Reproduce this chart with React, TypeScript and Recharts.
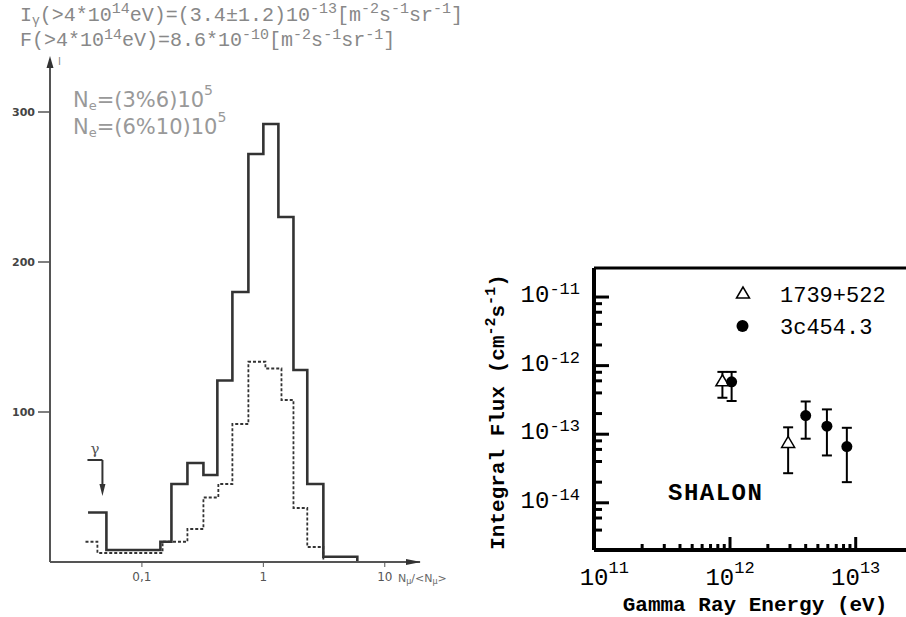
import React from 'react'
import {
  ComposedChart, Line, XAxis, YAxis, ReferenceLine, ReferenceDot,
  ScatterChart, Scatter, ErrorBar,
} from 'recharts'

// left panel: N_mu/<N_mu> histogram, bin left edges and counts (last entry closes the step)
const solidEdges = [0.036, 0.051, 0.142, 0.175, 0.237, 0.321, 0.418, 0.556, 0.753, 1, 1.33, 1.77, 2.3, 3.12, 5.94]
const solidCounts = [33, 8, 13.5, 52, 66, 58, 121, 180, 272, 292, 230, 128, 52, 3.5, 0]
const dashedEdges = [0.0343, 0.043, 0.148, 0.237, 0.321, 0.426, 0.556, 0.753, 1.04, 1.41, 1.77, 2.3, 3.12]
const dashedCounts = [13.5, 6, 13.5, 22, 43, 52, 92, 133.5, 129, 108, 36, 10, 0]
const histXTicks = [0.1, 1, 10]
const histXLabels = ['0,1', '1', '10']
const histYTicks = [100, 200, 300]

// right panel: SHALON integral flux
const bllacEnergy = [8.7e11, 2.9e12]
const bllacFlux = [6.0e-13, 7.6e-14]
const bllacLow = [3.4e-13, 2.7e-14]
const bllacHigh = [8.1e-13, 1.26e-13]

const quasarEnergy = [1.03e12, 4.0e12, 5.9e12, 8.5e12]
const quasarFlux = [5.8e-13, 1.87e-13, 1.31e-13, 6.6e-14]
const quasarLow = [3.05e-13, 8.6e-14, 4.9e-14, 2.0e-14]
const quasarHigh = [8.1e-13, 3.0e-13, 2.3e-13, 1.24e-13]

const energyTicks = [1e11, 2e11, 3e11, 4e11, 5e11, 6e11, 7e11, 8e11, 9e11, 1e12,
  2e12, 3e12, 4e12, 5e12, 6e12, 7e12, 8e12, 9e12, 1e13]
const fluxTicks = [4e-15, 6e-15, 8e-15, 1e-14, 2e-14, 4e-14, 6e-14, 8e-14, 1e-13,
  2e-13, 4e-13, 6e-13, 8e-13, 1e-12, 2e-12, 4e-12, 6e-12, 8e-12, 1e-11]

const E_MIN = 8.28e10
const E_MAX = 2.512e13
const F_MIN = 2.05e-15
const F_MAX = 2.65e-11

const mono = '"Liberation Mono", "DejaVu Sans Mono", monospace'
const gray = '#888'

const steps = (xs: number[], ys: number[]) => xs.map((x, i) => ({ x, y: ys[i] }))
const withErr = (e: number[], f: number[], lo: number[], hi: number[]) =>
  e.map((v, i) => ({ e: v, f: f[i], err: [f[i] - lo[i], hi[i] - f[i]] }))

const isDecade = (v: number) => Math.abs(Math.log10(v) - Math.round(Math.log10(v))) < 1e-6
const expo = (v: number) => String(Math.round(Math.log10(v)))

const EnergyTick = (props: any) => {
  const { x, y, payload, index } = props
  const v = payload.value
  const major = isDecade(v)
  return (
    <g>
      {index > 0 && (
        <line x1={x} x2={x} y1={y} y2={y - (major ? 13 : 6)} stroke="#000" strokeWidth={3} />
      )}
      {major && (
        <text x={x} y={y + 35} textAnchor="middle" fontFamily={mono} fontSize={24} fill="#000">
          10<tspan fontSize={17} dy={-12}>{expo(v)}</tspan>
        </text>
      )}
    </g>
  )
}

const FluxTick = (props: any) => {
  const { x, y, payload } = props
  const v = payload.value
  const major = isDecade(v)
  return (
    <g>
      <line x1={x} x2={x + (major ? 15 : 8)} y1={y} y2={y} stroke="#000" strokeWidth={3} />
      {major && (
        <text x={x - 14} y={y + 5} textAnchor="end" fontFamily={mono} fontSize={24} fill="#000">
          10<tspan fontSize={17} dy={-8}>{expo(v)}</tspan>
        </text>
      )}
    </g>
  )
}

const triangle = (props: any) => {
  const { cx, cy } = props
  return (
    <polygon
      points={`${cx},${cy - 6} ${cx - 6.5},${cy + 5} ${cx + 6.5},${cy + 5}`}
      fill="#fff" stroke="#000" strokeWidth={1.5}
    />
  )
}
const dot = (props: any) => <circle cx={props.cx} cy={props.cy} r={5.5} fill="#000" />

const HistogramPanel = () => (
  <ComposedChart width={460} height={617} margin={{ top: 67, right: 40, bottom: 25, left: 10 }}>
    <XAxis
      type="number" dataKey="x" scale="log" domain={[0.0175, 19.5]} allowDataOverflow
      ticks={histXTicks} interval={0} height={30}
      tickFormatter={(v: number) => histXLabels[histXTicks.indexOf(v)] ?? ''}
      axisLine={{ stroke: '#555', strokeWidth: 2 }} tickLine={{ stroke: '#555' }}
      tickSize={5} tickMargin={5}
      tick={{ fontSize: 12, fill: '#555', fontFamily: '"DejaVu Sans"' }}
    />
    <YAxis
      type="number" domain={[0, 330]} allowDataOverflow ticks={histYTicks} interval={0} width={40}
      axisLine={{ stroke: '#555', strokeWidth: 2 }} tickLine={{ stroke: '#555', strokeWidth: 1.5 }}
      tickSize={12} tickMargin={3}
      tick={{ fontSize: 11, fill: '#444', fontWeight: 'bold', fontFamily: '"DejaVu Sans"' }}
    />
    <Line
      data={steps(dashedEdges, dashedCounts)} dataKey="y" type="stepAfter" dot={false}
      stroke="#333" strokeWidth={1.8} strokeDasharray="3 2" isAnimationActive={false}
    />
    <Line
      data={steps(solidEdges, solidCounts)} dataKey="y" type="stepAfter" dot={false}
      stroke="#333" strokeWidth={2.6} isAnimationActive={false}
    />
    {/* gamma upper-limit arrow */}
    <ReferenceLine segment={[{ x: 0.0356, y: 68 }, { x: 0.0473, y: 68 }]} stroke="#333" strokeWidth={2} ifOverflow="visible" />
    <ReferenceLine segment={[{ x: 0.0473, y: 68 }, { x: 0.0473, y: 48 }]} stroke="#333" strokeWidth={2} ifOverflow="visible" />
    <ReferenceDot
      x={0.0473} y={48} r={1} ifOverflow="visible"
      shape={(p: any) => <polygon points={`${p.cx - 3},${p.cy - 6} ${p.cx + 3},${p.cy - 6} ${p.cx},${p.cy + 6}`} fill="#333" />}
    />
    {/* axis arrows */}
    <ReferenceDot
      x={0.0175} y={330} r={1} ifOverflow="visible"
      shape={(p: any) => <polygon points={`${p.cx},${p.cy - 11} ${p.cx - 3.5},${p.cy + 1} ${p.cx + 3.5},${p.cy + 1}`} fill="#333" />}
    />
    <ReferenceDot
      x={19.5} y={0} r={1} ifOverflow="visible"
      shape={(p: any) => <polygon points={`${p.cx + 1},${p.cy} ${p.cx - 14},${p.cy - 3} ${p.cx - 14},${p.cy + 3}`} fill="#333" />}
    />
  </ComposedChart>
)

const FluxPanel = () => (
  <ScatterChart width={426} height={617} margin={{ top: 268, right: 0, bottom: 27, left: 14 }}>
    <XAxis
      type="number" dataKey="e" scale="log" domain={[E_MIN, E_MAX]} allowDataOverflow
      ticks={energyTicks} interval={0} height={40}
      axisLine={{ stroke: '#000', strokeWidth: 4 }} tickLine={false}
      tickSize={0} tickMargin={0} tick={EnergyTick}
    />
    <YAxis
      type="number" dataKey="f" scale="log" domain={[F_MIN, F_MAX]} allowDataOverflow
      ticks={fluxTicks} interval={0} width={100}
      axisLine={{ stroke: '#000', strokeWidth: 4 }} tickLine={false}
      tickSize={0} tickMargin={0} tick={FluxTick}
    />
    <ReferenceLine y={F_MAX} stroke="#000" strokeWidth={3} />
    <Scatter
      name="1739+522" data={withErr(bllacEnergy, bllacFlux, bllacLow, bllacHigh)}
      shape={triangle} isAnimationActive={false}
    >
      <ErrorBar dataKey="err" direction="y" width={5} stroke="#000" strokeWidth={2} />
    </Scatter>
    <Scatter
      name="3c454.3" data={withErr(quasarEnergy, quasarFlux, quasarLow, quasarHigh)}
      shape={dot} isAnimationActive={false}
    >
      <ErrorBar dataKey="err" direction="y" width={5} stroke="#000" strokeWidth={2} />
    </Scatter>
  </ScatterChart>
)

const Annotations = () => (
  <svg width={906} height={617} style={{ position: 'absolute', left: 0, top: 0, pointerEvents: 'none' }}>
    <text x={20} y={21} fontFamily={mono} fontSize={20} fill={gray}>
      I<tspan fontSize={13} dy={3}>γ</tspan>
      <tspan dy={-3}>(&gt;4*10</tspan><tspan fontSize={15} dy={-8}>14</tspan>
      <tspan dy={8}>eV)=(3.4±1.2)10</tspan><tspan fontSize={15} dy={-8}>-13</tspan>
      <tspan dy={8}>[m</tspan><tspan fontSize={15} dy={-8}>-2</tspan>
      <tspan dy={8}>s</tspan><tspan fontSize={15} dy={-8}>-1</tspan>
      <tspan dy={8}>sr</tspan><tspan fontSize={15} dy={-8}>-1</tspan>
      <tspan dy={8}>]</tspan>
    </text>
    <text x={20} y={46} fontFamily={mono} fontSize={20} fill={gray}>
      F(&gt;4*10<tspan fontSize={15} dy={-7}>14</tspan>
      <tspan dy={7}>eV)=8.6*10</tspan><tspan fontSize={15} dy={-7}>-10</tspan>
      <tspan dy={7}>[m</tspan><tspan fontSize={15} dy={-7}>-2</tspan>
      <tspan dy={7}>s</tspan><tspan fontSize={15} dy={-7}>-1</tspan>
      <tspan dy={7}>sr</tspan><tspan fontSize={15} dy={-7}>-1</tspan>
      <tspan dy={7}>]</tspan>
    </text>
    <text x={73} y={107} fontFamily='"DejaVu Sans"' fontSize={21} fill="#999">
      N<tspan fontSize={13} dy={3}>e</tspan><tspan dy={-3}>=(3%6)10</tspan>
      <tspan fontSize={14} dy={-12}>5</tspan>
    </text>
    <text x={73} y={134} fontFamily='"DejaVu Sans"' fontSize={21} fill="#999">
      N<tspan fontSize={13} dy={3}>e</tspan><tspan dy={-3}>=(6%10)10</tspan>
      <tspan fontSize={14} dy={-12}>5</tspan>
    </text>
    <text x={58} y={65} fontFamily='"DejaVu Sans"' fontSize={10} fill={gray}>I</text>
    <text x={95} y={454} textAnchor="middle" fontFamily='"DejaVu Serif"' fontSize={15} fill="#555">γ</text>
    <text x={398} y={582} fontFamily='"DejaVu Sans"' fontSize={11} fill="#666">
      N<tspan fontSize={8} dy={2}>μ</tspan><tspan dy={-2}>/&lt;N</tspan><tspan fontSize={8} dy={2}>μ</tspan><tspan dy={-2}>&gt;</tspan>
    </text>

    {/* right panel texts */}
    <g transform="translate(504,412) rotate(-90)">
      <text x={0} y={0} textAnchor="middle" fontFamily={mono} fontWeight="bold" fontSize={21} fill="#000">
        Integral Flux (cm<tspan fontSize={15} dy={-9}>-2</tspan><tspan dy={9}>s</tspan>
        <tspan fontSize={15} dy={-9}>-1</tspan><tspan dy={9}>)</tspan>
      </text>
    </g>
    <text x={755} y={611} textAnchor="middle" fontFamily={mono} fontWeight="bold" fontSize={21} fill="#000">
      Gamma Ray Energy (eV)
    </text>
    <text x={668} y={500} fontFamily={mono} fontWeight="bold" fontSize={24} letterSpacing={1.5} fill="#000">SHALON</text>
    <polygon points="743,287 736.5,298 749.5,298" fill="#fff" stroke="#000" strokeWidth={1.5} />
    <text x={780} y={302} fontFamily={mono} fontSize={22} fill="#000">1739+522</text>
    <circle cx={742.5} cy={326} r={6} fill="#000" />
    <text x={780} y={334} fontFamily={mono} fontSize={22} fill="#000">3c454.3</text>
  </svg>
)

export default function App() {
  return (
    <div style={{ position: 'absolute', left: 0, top: 0, width: 906, height: 617, overflow: 'hidden', background: '#fff' }}>
      <div style={{ position: 'absolute', left: 0, top: 0 }}>
        <HistogramPanel />
      </div>
      <div style={{ position: 'absolute', left: 480, top: 0 }}>
        <FluxPanel />
      </div>
      <Annotations />
    </div>
  )
}
